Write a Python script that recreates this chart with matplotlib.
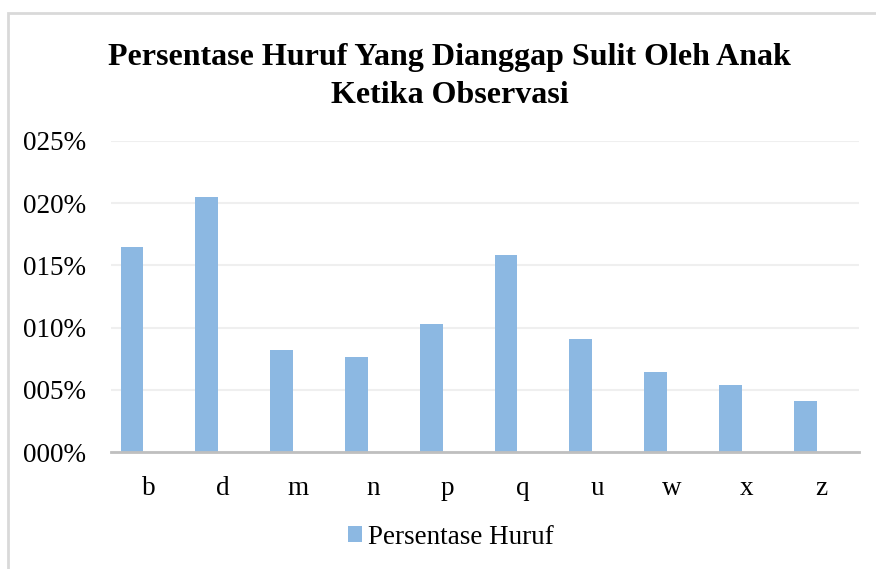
import numpy as np
import matplotlib.pyplot as plt
from matplotlib.patches import Rectangle

# data
huruf = ['b', 'd', 'm', 'n', 'p', 'q', 'u', 'w', 'x', 'z']
persentase = [16.5, 20.5, 8.2, 7.6, 10.3, 15.8, 9.1, 6.4, 5.4, 4.1]
yticks = [0, 5, 10, 15, 20, 25]
ytick_labels = ['000%', '005%', '010%', '015%', '020%', '025%']

plt.rcParams['font.family'] = ['Liberation Serif', 'DejaVu Serif']

fig = plt.figure(figsize=(8.76, 5.69), dpi=100)
ax = fig.add_axes([0.1267, 0.2056, 0.8539, 0.5466])

x = np.arange(len(huruf))
# bars sit a bit left of the category centre, as in the original
ax.bar(x - 0.22, persentase, width=0.305, color='#8cb8e2', label='Persentase Huruf', zorder=3)

ax.set_ylim(0, 25)
ax.set_xlim(-0.5, len(huruf) - 0.5)
ax.set_xticks(x)
ax.set_xticklabels(huruf)
ax.set_yticks(yticks)
ax.set_yticklabels(ytick_labels)
ax.grid(axis='y', color='#efefef', linewidth=1.5, zorder=0)
ax.tick_params(axis='both', length=0, labelsize=19.5)
ax.tick_params(axis='x', pad=17)
ax.tick_params(axis='y', pad=18)
for s in ['top', 'right', 'left']:
    ax.spines[s].set_visible(False)
ax.spines['bottom'].set_color('#bfbfbf')
ax.spines['bottom'].set_linewidth(2)
ax.spines['bottom'].set_zorder(4)

fig.text(0.513, 0.866, 'Persentase Huruf Yang Dianggap Sulit Oleh Anak\nKetika Observasi',
         ha='center', va='center', fontsize=23, fontweight='bold', linespacing=1.42)

fig.legend(loc='center', bbox_to_anchor=(0.515, 0.056), frameon=False, fontsize=19.5,
           handlelength=0.5, handleheight=0.5, handletextpad=0.25)

# light border around the chart area
fig.patches.append(Rectangle((8 / 876, -0.05), 1.1, 1 - 13 / 569 + 0.05, transform=fig.transFigure,
                             fill=False, edgecolor='#d9d9d9', linewidth=2))

fig.savefig('out.png', dpi=100)
